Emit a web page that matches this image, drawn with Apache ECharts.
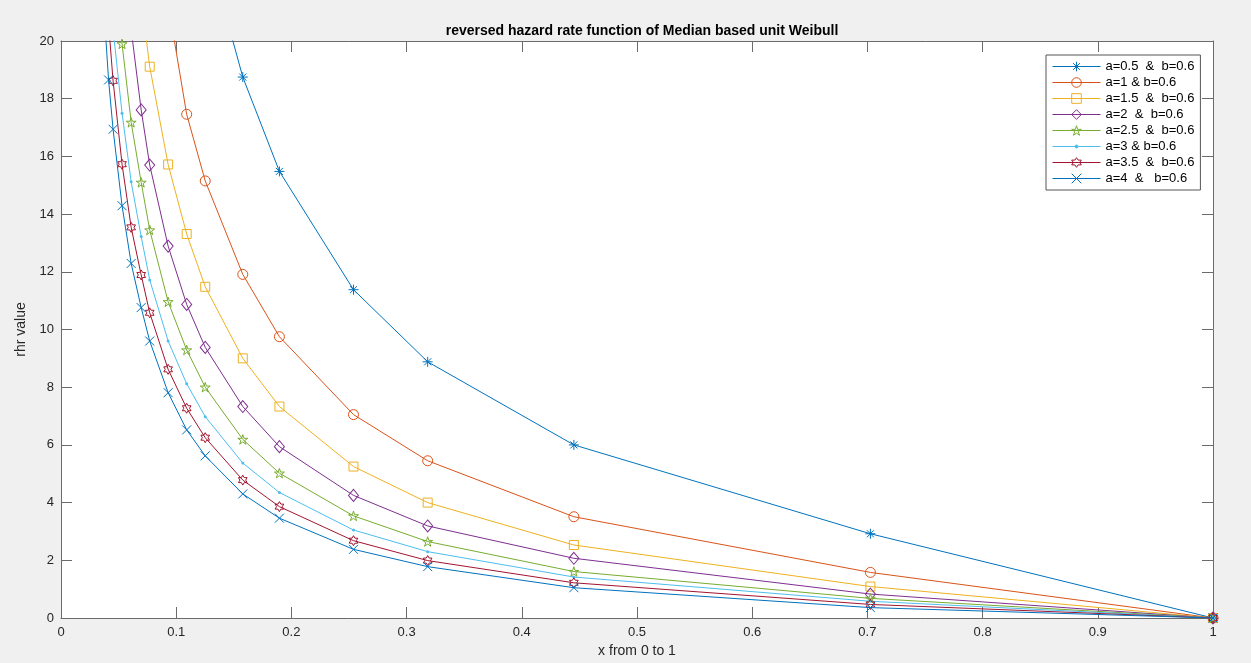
<!DOCTYPE html>
<html>
<head>
<meta charset="utf-8">
<script src="https://cdn.jsdelivr.net/npm/echarts@6/dist/echarts.min.js"></script>
<style>
  html, body { margin: 0; padding: 0; background: #F0F0F0; }
  #chart { width: 1251px; height: 663px; }
</style>
</head>
<body>
<div id="chart"></div>
<script>
// ---- data ----
const xs = [0.0374, 0.0413, 0.0452, 0.0530, 0.0609, 0.0696, 0.0770, 0.0930, 0.1091, 0.1252, 0.1578, 0.1896, 0.2539, 0.3183, 0.4452, 0.7026, 1.0];

const a05 = [null, null, null, null, null, null, null, null, null, 23.5, 18.75, 15.48, 11.38, 8.88, 6.00, 2.92, 0];
const a1  = [null, null, null, null, null, null, null, 21.3, 17.46, 15.15, 11.91, 9.75, 7.05, 5.45, 3.51, 1.58, 0];
const a15 = [null, null, null, null, null, 21.5, 19.11, 15.72, 13.31, 11.48, 9.00, 7.33, 5.25, 4.00, 2.53, 1.09, 0];
const a2  = [null, null, null, null, 20.4, 17.61, 15.70, 12.89, 10.87, 9.38, 7.33, 5.94, 4.25, 3.19, 2.07, 0.83, 0];
const a25 = [null, null, 23.0, 19.9, 17.18, 15.10, 13.45, 10.96, 9.29, 8.00, 6.19, 5.02, 3.54, 2.65, 1.61, 0.68, 0];
const a3  = [null, null, 20.4, 17.5, 15.12, 13.22, 11.72, 9.60, 8.12, 6.98, 5.37, 4.35, 3.05, 2.30, 1.42, 0.58, 0];
const a35 = [null, 20.6, 18.62, 15.73, 13.54, 11.89, 10.58, 8.62, 7.27, 6.25, 4.78, 3.86, 2.68, 1.99, 1.22, 0.47, 0];
const a4  = [21.0, 18.65, 16.94, 14.29, 12.29, 10.76, 9.60, 7.81, 6.52, 5.62, 4.30, 3.46, 2.38, 1.78, 1.05, 0.36, 0];

const seriesNames = ['a=0.5  &  b=0.6', 'a=1 & b=0.6', 'a=1.5  &  b=0.6', 'a=2  &  b=0.6',
                     'a=2.5  &  b=0.6', 'a=3 & b=0.6', 'a=3.5  &  b=0.6', 'a=4  &   b=0.6'];
const seriesValues = [a05, a1, a15, a2, a25, a3, a35, a4];

const xTickLabels = ['0', '0.1', '0.2', '0.3', '0.4', '0.5', '0.6', '0.7', '0.8', '0.9', '1'];
const yTickLabels = ['0', '2', '4', '6', '8', '10', '12', '14', '16', '18', '20'];

const titleText = 'reversed hazard rate function of Median based unit Weibull';
const xName = 'x from 0 to 1';
const yName = 'rhr value';

// ---- styles ----
const colors = ['#0072BD', '#D95319', '#EDB120', '#7E2F8E', '#77AC30', '#4DBEEE', '#A2142F', '#0072BD'];
const SYM = {
  asterisk: 'path://M0,5L10,5M5,0L5,10M1.46,1.46L8.54,8.54M8.54,1.46L1.46,8.54',
  xmark: 'path://M0,0L10,10M10,0L0,10',
  pentagram: 'path://M5,0L6.123,3.455L9.755,3.455L6.816,5.59L7.939,9.045L5,6.91L2.061,9.045L3.184,5.59L0.245,3.455L3.877,3.455Z',
  hexagram: 'path://M5,0L6.443,2.5L9.33,2.5L7.887,5L9.33,7.5L6.443,7.5L5,10L3.557,7.5L0.67,7.5L2.113,5L0.67,2.5L3.557,2.5Z'
};
// legend icon for the point-marker series: a line with a tiny dot in the middle
const DOT_LEGEND_ICON = 'path://M0,4.5L48,4.5M25.5,4.5A1.5,1.5,0,1,1,22.5,4.5A1.5,1.5,0,1,1,25.5,4.5Z';

const markers = [
  { symbol: SYM.asterisk, size: 10, hollow: true },
  { symbol: 'circle', size: 10, hollow: true },
  { symbol: 'rect', size: 9, hollow: true },
  { symbol: 'diamond', size: [10, 12], hollow: true },
  { symbol: SYM.pentagram, size: 10, hollow: true },
  { symbol: 'circle', size: 3, hollow: false },
  { symbol: SYM.hexagram, size: 10, hollow: true },
  { symbol: SYM.xmark, size: 9, hollow: true }
];

const FONT = '"Liberation Sans", Arial, Helvetica, sans-serif';
const AXIS_COLOR = '#6b6b6b';
const TEXT_COLOR = '#262626';

function markerStyle(i) {
  const c = colors[i];
  return markers[i].hollow
    ? { color: 'rgba(255,255,255,0)', borderColor: c, borderWidth: 1 }
    : { color: c, borderColor: c, borderWidth: 0 };
}

const series = seriesNames.map((name, i) => {
  const m = markers[i];
  const c = colors[i];
  const data = [];
  xs.forEach((x, k) => { if (seriesValues[i][k] !== null) data.push([x, seriesValues[i][k]]); });
  return {
    name: name,
    type: 'line',
    data: data,
    xAxisIndex: 0,
    yAxisIndex: 0,
    symbol: m.symbol,
    symbolSize: m.size,
    symbolKeepAspect: true,
    showSymbol: true,
    showAllSymbol: true,
    clip: true,
    lineStyle: { color: c, width: 1 },
    itemStyle: markerStyle(i),
    emphasis: { disabled: true },
    z: 2 + i
  };
});

const legendData = seriesNames.map((name, i) => {
  if (!markers[i].hollow) {
    return {
      name: name,
      icon: DOT_LEGEND_ICON,
      itemStyle: { color: colors[i], borderColor: colors[i], borderWidth: 1 }
    };
  }
  return {
    name: name,
    itemStyle: markerStyle(i),
    lineStyle: { color: colors[i], width: 1 }
  };
});

const chart = echarts.init(document.getElementById('chart'), null, { renderer: 'canvas' });
chart.setOption({
  animation: false,
  backgroundColor: '#F0F0F0',
  textStyle: { fontFamily: FONT },
  title: {
    text: titleText,
    left: 637,
    textAlign: 'center',
    top: 19,
    textStyle: { fontFamily: FONT, fontSize: 14, fontWeight: 'bold', color: '#000' }
  },
  grid: {
    left: 61, top: 41, width: 1152, height: 577,
    show: true, backgroundColor: '#ffffff', borderWidth: 0
  },
  legend: {
    orient: 'vertical',
    left: 1046,
    top: 55,
    padding: [5, 6, 5, 6],
    backgroundColor: '#ffffff',
    borderColor: '#555',
    borderWidth: 1,
    borderRadius: 0,
    itemWidth: 48,
    itemHeight: 12,
    itemGap: 3,
    selectedMode: false,
    textStyle: { fontFamily: FONT, fontSize: 13, color: '#000', padding: [0, 0, 0, 0] },
    data: legendData,
    z: 20
  },
  xAxis: [
    {
      type: 'value', min: 0, max: 1, interval: 0.1,
      name: xName, nameLocation: 'middle', nameGap: 25,
      nameTextStyle: { fontFamily: FONT, fontSize: 14, color: TEXT_COLOR },
      axisLine: { show: true, onZero: false, lineStyle: { color: AXIS_COLOR, width: 1 } },
      axisTick: { show: true, inside: true, length: 11, lineStyle: { color: AXIS_COLOR } },
      axisLabel: {
        fontFamily: FONT, fontSize: 13, color: TEXT_COLOR, margin: 8,
        formatter: v => xTickLabels[Math.round(v * 10)]
      },
      splitLine: { show: false }
    },
    {
      type: 'value', min: 0, max: 1, interval: 0.1, position: 'top',
      axisLine: { show: true, onZero: false, lineStyle: { color: AXIS_COLOR, width: 1 } },
      axisTick: { show: true, inside: true, length: 11, lineStyle: { color: AXIS_COLOR } },
      axisLabel: { show: false },
      splitLine: { show: false }
    }
  ],
  yAxis: [
    {
      type: 'value', min: 0, max: 20, interval: 2,
      name: yName, nameLocation: 'middle', nameGap: 20, nameRotate: 90,
      nameTextStyle: { fontFamily: FONT, fontSize: 14, color: TEXT_COLOR },
      axisLine: { show: true, onZero: false, lineStyle: { color: AXIS_COLOR, width: 1 } },
      axisTick: { show: true, inside: true, length: 11, lineStyle: { color: AXIS_COLOR } },
      axisLabel: {
        fontFamily: FONT, fontSize: 13, color: TEXT_COLOR, margin: 7,
        formatter: v => yTickLabels[Math.round(v / 2)]
      },
      splitLine: { show: false }
    },
    {
      type: 'value', min: 0, max: 20, interval: 2, position: 'right',
      axisLine: { show: true, onZero: false, lineStyle: { color: AXIS_COLOR, width: 1 } },
      axisTick: { show: true, inside: true, length: 11, lineStyle: { color: AXIS_COLOR } },
      axisLabel: { show: false },
      splitLine: { show: false }
    }
  ],
  series: series
});
</script>
</body>
</html>
